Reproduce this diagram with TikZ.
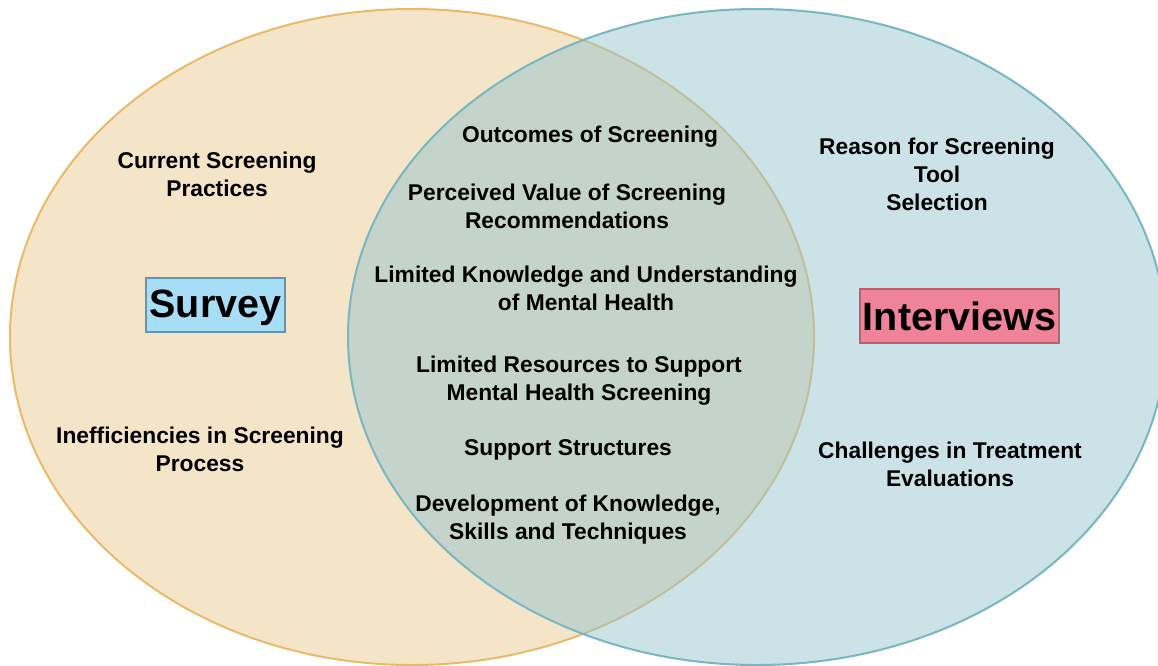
\documentclass[tikz,border=0pt]{standalone}
\usepackage{fontspec}
\setmainfont{Liberation Sans}
\definecolor{survfill}{HTML}{F5E5C8}
\definecolor{survline}{HTML}{E8BA6A}
\definecolor{intfill}{HTML}{97C5CD}
\definecolor{intline}{HTML}{78B7C2}
\definecolor{surveybox}{HTML}{A8DDF6}
\definecolor{surveyboxline}{HTML}{5E96B3}
\definecolor{intbox}{HTML}{EE8399}
\definecolor{intboxline}{HTML}{B9606F}
\begin{document}
\begin{tikzpicture}[x=1pt,y=-1pt,
  theme/.style={font=\fontsize{22.8}{28}\selectfont\bfseries, align=center, inner sep=0pt},
  setbox/.style={draw, line width=1.5pt, inner sep=0pt, minimum height=54pt,
    font=\fontsize{39.5}{44}\selectfont\bfseries}]
  \clip (0,0) rectangle (1158,665);
  % the two sets
  \draw[survline, line width=2pt, fill=survfill] (412,337) ellipse [x radius=402, y radius=328];
  \draw[intline, line width=2pt, fill=intfill, fill opacity=0.5] (757,337) ellipse [x radius=409, y radius=328];

  % set labels
  \node[setbox, fill=surveybox, draw=surveyboxline, minimum width=139pt,
        text height=30pt, text depth=6pt] (survey) at (215.5,305) {Survey};
  \node[setbox, fill=intbox, draw=intboxline, minimum width=199pt] (interviews) at (959.5,316) {Interviews};

  % survey only
  \node[theme] (current) at (217,174) {Current Screening\\Practices};
  \node[theme] (ineff) at (200,449) {Inefficiencies in Screening\\Process};

  % shared themes
  \node[theme] (outcomes) at (590,137) {Outcomes of Screening};
  \node[theme] (perceived) at (567,206) {Perceived Value of Screening\\Recommendations};
  \node[theme] (knowledge) at (586,288) {Limited Knowledge and Understanding\\of Mental Health};
  \node[theme] (resources) at (579,381) {Limited Resources to Support\\Mental Health Screening};
  \node[theme] (support) at (568,450) {Support Structures};
  \node[theme] (develop) at (568,520) {Development of Knowledge,\\Skills and Techniques};

  % interviews only
  \node[theme] (reason) at (937,174) {Reason for Screening\\Tool\\Selection};
  \node[theme] (challenges) at (950,464) {Challenges in Treatment\\Evaluations};
\end{tikzpicture}
\end{document}
